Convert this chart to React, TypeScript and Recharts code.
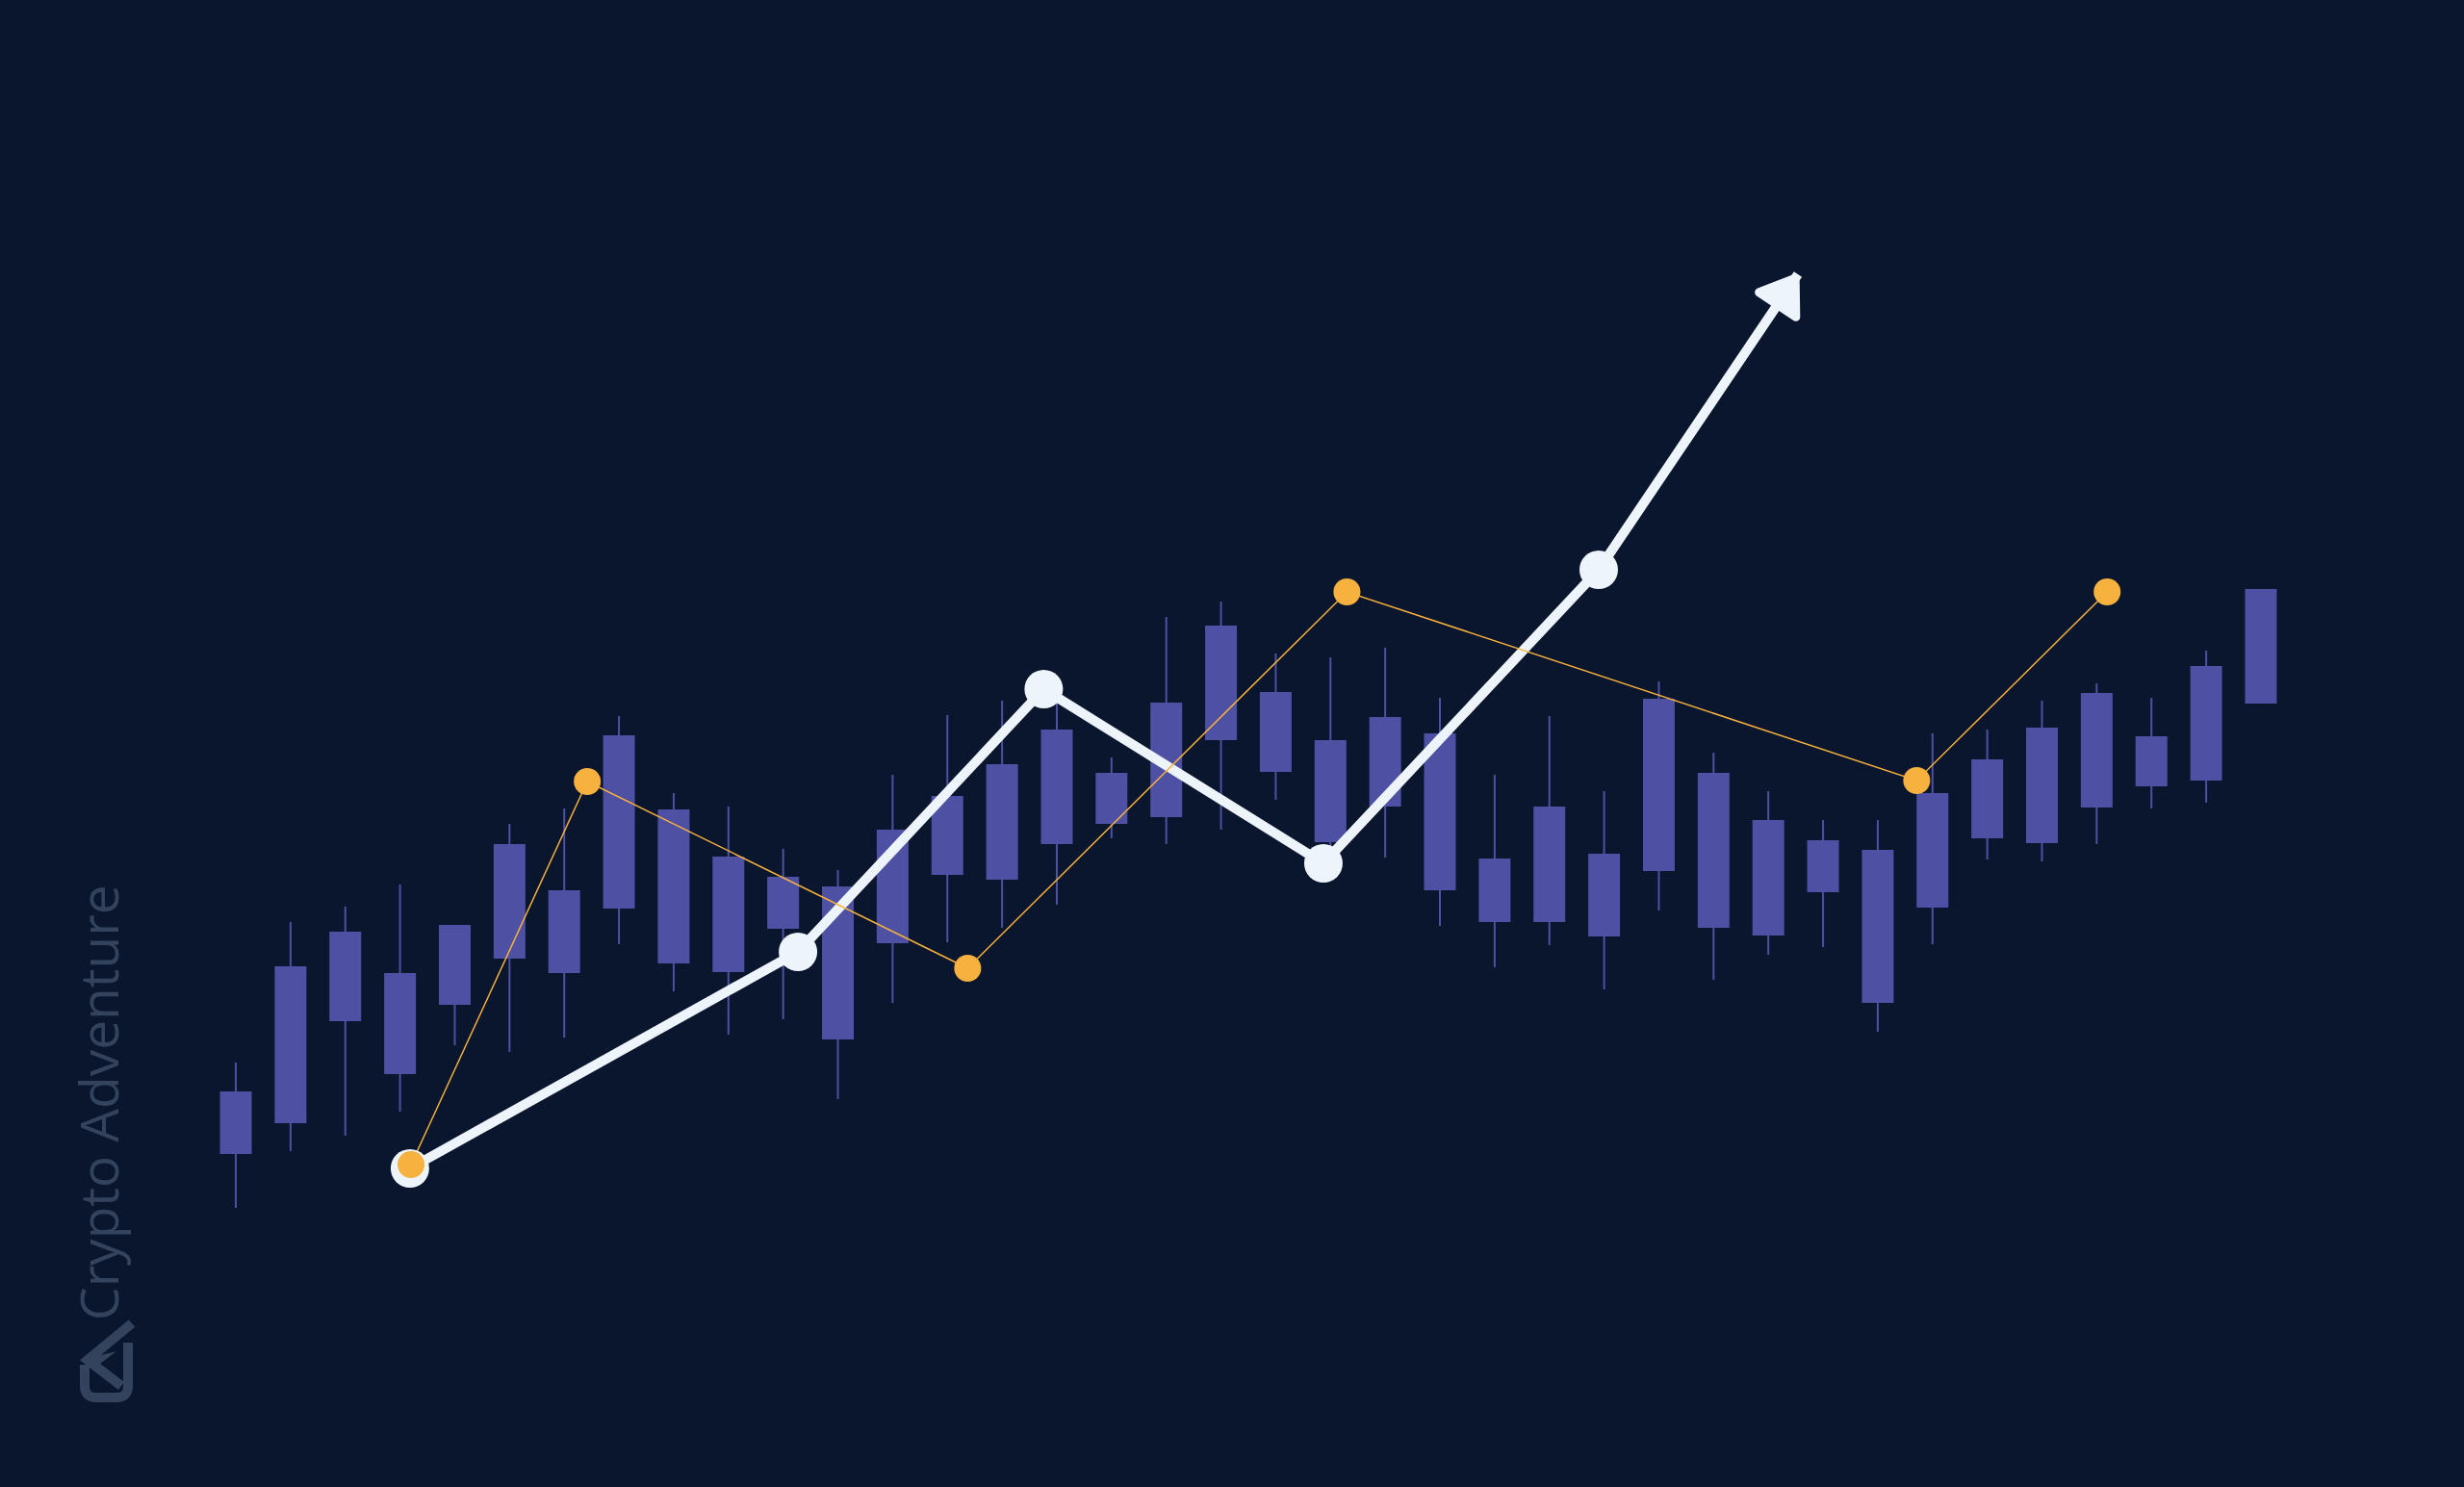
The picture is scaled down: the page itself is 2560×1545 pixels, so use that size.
import React from "react";
import { Bar, ComposedChart, Line, XAxis, YAxis } from "recharts";

// candle prices, one entry per session
const CANDLE_OPEN = [134.6, 137.8, 148.4, 153.4, 150.1, 154.9, 162.0, 160.1, 170.4, 165.5, 158.0, 162.4, 156.5, 163.6, 163.1, 166.8, 174.2, 169.6, 177.6, 182.6, 177.6, 170.7, 178.3, 165.3, 158.7, 165.8, 164.0, 174.2, 169.3, 161.8, 166.2, 160.2, 167.4, 166.9, 170.6, 178.0, 173.4, 181.4];
const CANDLE_CLOSE = [141.1, 154.1, 157.7, 142.9, 158.4, 166.8, 153.4, 178.1, 154.4, 153.5, 163.4, 146.5, 168.3, 171.8, 175.1, 178.7, 168.9, 181.5, 189.5, 174.3, 167.0, 180.0, 162.0, 158.7, 170.7, 157.2, 181.9, 158.1, 157.3, 167.2, 150.3, 172.1, 175.6, 178.9, 182.5, 172.8, 185.3, 193.3];
const CANDLE_HIGH = [144.1, 158.7, 160.3, 162.6, 158.4, 168.9, 170.5, 180.1, 172.1, 170.7, 166.3, 164.1, 174.0, 180.2, 181.7, 183.0, 175.8, 190.4, 192.0, 186.6, 186.2, 187.2, 182.0, 174.0, 180.1, 172.3, 183.7, 176.3, 172.3, 169.3, 169.3, 178.3, 178.7, 181.7, 183.5, 182.0, 186.9, 193.3];
const CANDLE_LOW = [129.0, 134.9, 136.5, 139.0, 145.9, 145.2, 146.7, 156.4, 151.5, 147.0, 148.6, 140.3, 150.3, 156.6, 158.1, 160.5, 167.4, 166.8, 168.3, 171.4, 165.0, 165.4, 158.3, 154.0, 156.3, 151.7, 159.9, 152.7, 155.3, 156.1, 147.3, 156.4, 165.2, 165.0, 166.8, 170.5, 171.1, 181.4];

// white trend path (session position, price), last point is the arrow tip
const TREND_X = [3.18, 10.27, 14.76, 19.87, 24.9, 28.54];
const TREND_Y = [133.1, 155.6, 182.9, 164.8, 195.3, 226.0];

// orange swing points
const SWING_X = [3.2, 6.42, 13.37, 20.3, 30.71, 34.19];
const SWING_Y = [133.5, 173.3, 153.9, 193.0, 173.4, 193.0];

const W = 2560;
const H = 1545;
const BODY_W = 33;
const BG = "#09162D";
const CANDLE = "#4E50A3";
const WHITE = "#EEF4FB";
const ORANGE = "#F7B13E";
const MARK = "#34435D";

const candles = CANDLE_OPEN.map((open, i) => ({
  x: i,
  open,
  close: CANDLE_CLOSE[i],
  high: CANDLE_HIGH[i],
  low: CANDLE_LOW[i],
  range: [CANDLE_LOW[i], CANDLE_HIGH[i]],
}));
const trend = TREND_X.map((x, i) => ({ x, y: TREND_Y[i] }));
const swings = SWING_X.map((x, i) => ({ x, y: SWING_Y[i] }));

function Candle(props: any) {
  const { x, y, width, height, payload } = props;
  if (x == null || y == null || !payload) return null;
  const { open, close, high, low } = payload;
  const span = high - low;
  const toY = (v: number) => (span === 0 ? y : y + ((high - v) / span) * height);
  const top = toY(Math.max(open, close));
  const bottom = toY(Math.min(open, close));
  const cx = x + (width || 0) / 2;
  return (
    <g>
      <line x1={cx} x2={cx} y1={y} y2={y + height} stroke={CANDLE} strokeWidth={2} />
      <rect x={cx - BODY_W / 2} y={top} width={BODY_W} height={Math.max(1, bottom - top)} fill={CANDLE} />
    </g>
  );
}

function TrendDot(props: any) {
  const { cx, cy, index, points } = props;
  if (cx == null || cy == null) return null;
  if (index === TREND_X.length - 1) {
    const prev = points && points[index - 1];
    let ux = 0.56, uy = -0.83;
    if (prev) {
      const dx = cx - prev.x, dy = cy - prev.y;
      const len = Math.hypot(dx, dy) || 1;
      ux = dx / len;
      uy = dy / len;
    }
    const nx = -uy, ny = ux;
    const tx = cx - ux * 5, ty = cy - uy * 5;
    const bx = cx - ux * 38, by = cy - uy * 38;
    const d = `M${tx},${ty} L${bx + nx * 23},${by + ny * 23} L${bx - nx * 23},${by - ny * 23} Z`;
    return (
      <path key="arrow" d={d} fill={WHITE} stroke={WHITE} strokeWidth={9} strokeLinejoin="round" />
    );
  }
  return <circle key={`t${index}`} cx={cx} cy={cy} r={20} fill={WHITE} />;
}

function SwingDot(props: any) {
  const { cx, cy, index } = props;
  if (cx == null || cy == null) return null;
  return <circle key={`s${index}`} cx={cx} cy={cy} r={14} fill={ORANGE} />;
}

function Watermark() {
  return (
    <svg width={W} height={H} style={{ position: "absolute", left: 0, top: 0 }}>
      <text
        transform="translate(123,1372) rotate(-90)"
        fill={MARK}
        fontFamily="'Open Sans', sans-serif"
        fontSize={55}
      >
        Crypto Adventure
      </text>
      <path
        d="M88 1418 L88 1440 Q88 1452 100 1452 L121 1452 Q133 1452 133 1440 L133 1395"
        fill="none"
        stroke={MARK}
        strokeWidth={10}
      />
      <path d="M137 1375 L91 1413 L126 1440" fill="none" stroke={MARK} strokeWidth={10} />
      <path d="M92 1411 L121 1404 L100 1420 Z" fill={MARK} />
    </svg>
  );
}

export default function App() {
  return (
    <div
      style={{
        position: "absolute",
        left: 0,
        top: 0,
        width: W,
        height: H,
        background: BG,
        overflow: "hidden",
      }}
    >
      <Watermark />
      <div style={{ position: "absolute", left: 0, top: 0 }}>
        <ComposedChart width={W} height={H} data={candles} margin={{ top: 0, right: 0, bottom: 0, left: 0 }}>
          <XAxis type="number" dataKey="x" domain={[-4.31, 40.71]} allowDataOverflow hide />
          <YAxis type="number" domain={[100, 254.5]} allowDataOverflow hide />
          <Bar dataKey="range" barSize={BODY_W} shape={Candle} isAnimationActive={false} />
          <Line
            data={trend}
            dataKey="y"
            type="linear"
            stroke={WHITE}
            strokeWidth={10}
            dot={TrendDot}
            activeDot={false}
            isAnimationActive={false}
          />
          <Line
            data={swings}
            dataKey="y"
            type="linear"
            stroke={ORANGE}
            strokeWidth={1.5}
            dot={SwingDot}
            activeDot={false}
            isAnimationActive={false}
          />
        </ComposedChart>
      </div>
    </div>
  );
}
